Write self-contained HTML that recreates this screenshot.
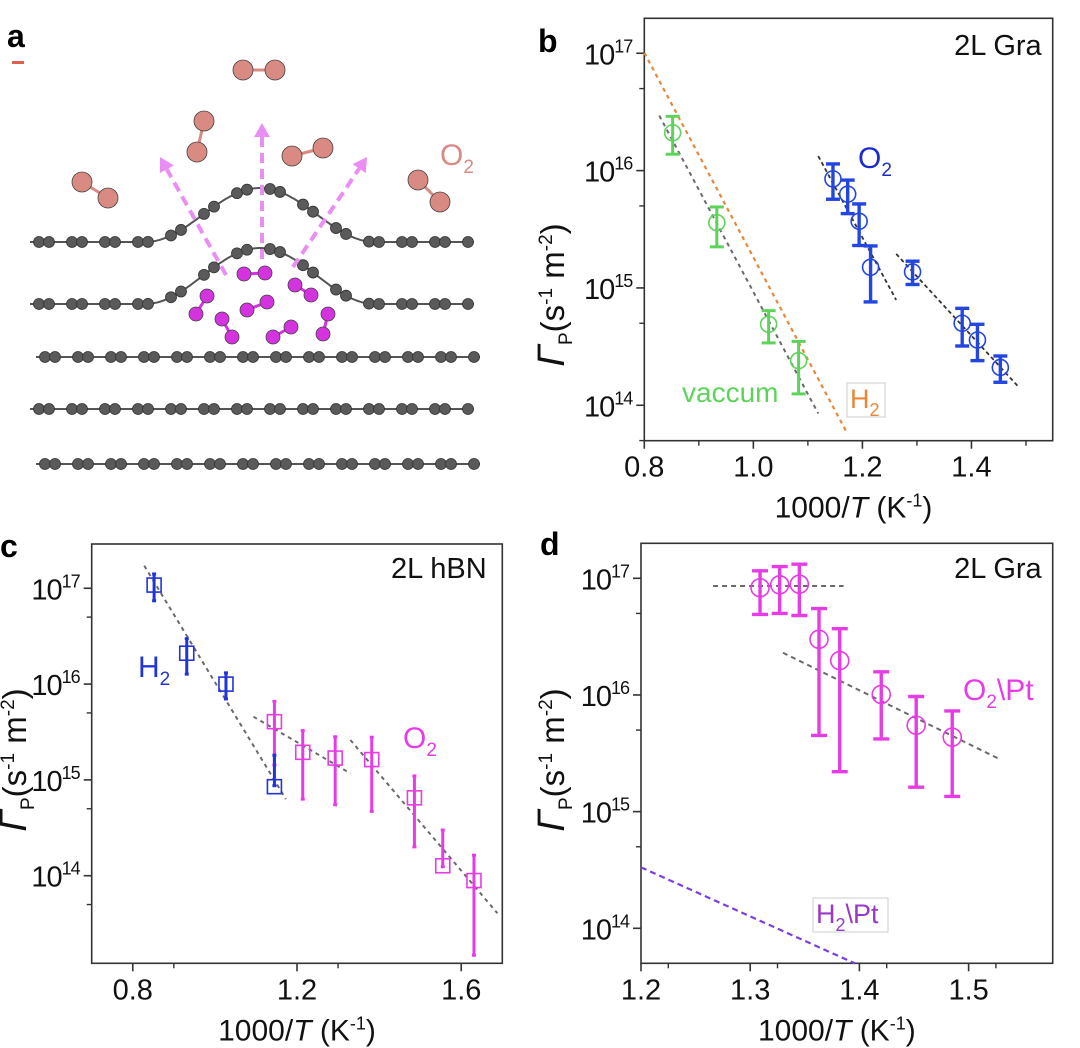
<!DOCTYPE html>
<html><head><meta charset="utf-8"><style>
body{margin:0;background:#fff}
svg{display:block;font-family:"Liberation Sans",Arial,sans-serif}
</style></head><body>
<svg id="fig" width="1080" height="1048" viewBox="0 0 1080 1048" xmlns="http://www.w3.org/2000/svg">
<g id="pa"></g>
<g id="pb"></g>
<g id="pc"></g>
<g id="pd"></g>
</svg>
<script>
// ---------- Panel b data ----------
const bVacX=[0.852,0.933,1.028,1.083];
const bVacY=[2.1e16,3.6e15,4.9e14,2.4e14];
const bVacHi=[2.9e16,4.9e15,6.4e14,3.5e14];
const bVacLo=[1.38e16,2.24e15,3.4e14,1.25e14];
const bO2X=[1.146,1.173,1.194,1.215,1.292,1.383,1.411,1.453];
const bO2Y=[8.5e15,6.3e15,3.7e15,1.5e15,1.37e15,5.0e14,3.6e14,2.1e14];
const bO2Hi=[1.14e16,8.3e15,5.2e15,2.28e15,1.69e15,6.7e14,4.9e14,2.63e14];
const bO2Lo=[5.7e15,4.3e15,2.3e15,7.6e14,1.07e15,3.2e14,2.4e14,1.57e14];
const bFitVacX=[0.8275,1.119], bFitVacY=[2.94e16,8.5e13];
const bFitH2X=[0.8,1.171], bFitH2Y=[1.01e17,5.9e13];
const bFitO2aX=[1.119,1.262], bFitO2aY=[1.33e16,7.9e14];
const bFitO2bX=[1.262,1.486], bFitO2bY=[1.95e15,1.44e14];
const bXTicks=["0.8","1.0","1.2","1.4"];
// ---------- Panel c data ----------
const cH2X=[0.852,0.9315,1.027,1.145];
const cH2Y=[1.08e17,2.1e16,1.0e16,8.5e14];
const cH2Hi=[1.41e17,2.98e16,1.31e16,1.81e15];
const cH2Lo=[7.4e16,1.27e16,7.0e15,8.7e14];
const cO2X=[1.145,1.214,1.293,1.382,1.486,1.555,1.631];
const cO2Y=[4.05e15,1.94e15,1.69e15,1.63e15,6.5e14,1.27e14,8.9e13];
const cO2Hi=[6.6e15,3.27e15,2.82e15,2.79e15,1.1e15,3.0e14,1.64e14];
const cO2Lo=[1.43e15,6.3e14,5.5e14,4.7e14,2.0e14,1.24e14,1.48e13];
const cFit1X=[0.828,1.173], cFit1Y=[1.72e17,6.3e14];
const cFit2X=[1.094,1.33], cFit2Y=[4.57e15,1.17e15];
const cFit3X=[1.33,1.688], cFit3Y=[2.61e15,4.06e13];
const cXTicks=["0.8","1.2","1.6"];
// ---------- Panel d data ----------
const dO2X=[1.309,1.327,1.345,1.363,1.382,1.420,1.452,1.485];
const dO2Y=[8.3e16,8.8e16,8.9e16,3.0e16,1.97e16,1.01e16,5.5e15,4.35e15];
const dO2Hi=[1.16e17,1.26e17,1.32e17,5.5e16,3.7e16,1.58e16,9.7e15,7.3e15];
const dO2Lo=[4.9e16,5.0e16,4.8e16,4.5e15,2.2e15,4.2e15,1.62e15,1.35e15];
const dFit1X=[1.266,1.3855], dFit1Y=[8.6e16,8.6e16];
const dFit2X=[1.33,1.529], dFit2Y=[2.3e16,2.8e15];
const dH2X=[1.2,1.396], dH2Y=[3.33e14,5.0e13];
const dXTicks=["1.2","1.3","1.4","1.5"];
const yDecades=[14,15,16,17];

const NS="http://www.w3.org/2000/svg";
function el(parent,tag,attrs,text){
  const e=document.createElementNS(NS,tag);
  for(const k in attrs) e.setAttribute(k,attrs[k]);
  if(text!==undefined) e.textContent=text;
  parent.appendChild(e); return e;
}

function makeAxes(g,cfg){
  const X=v=>cfg.L+(v-cfg.x0)/(cfg.x1-cfg.x0)*(cfg.R-cfg.L);
  const Y=v=>{const l=Math.log10(v);return cfg.B-(l-cfg.y0)/(cfg.y1-cfg.y0)*(cfg.B-cfg.T);};
  const frame=el(g,'rect',{x:cfg.L,y:cfg.T,width:cfg.R-cfg.L,height:cfg.B-cfg.T,fill:'none',stroke:'#333','stroke-width':1.6});
  
  
  cfg.xt.forEach(t=>{const v=parseFloat(t),x=X(v);
    const tk=el(g,'line',{x1:x,x2:x,y1:cfg.B,y2:cfg.B+8,stroke:'#333','stroke-width':1.6});
    
    
    const tl=el(g,'text',{x:x,y:cfg.B+36,'font-size':29,'text-anchor':'middle',fill:'#111'},t);
    
    
    const m=v+cfg.xstep/2;
    if(m<cfg.x1){const mx=X(m);const mt=el(g,'line',{x1:mx,x2:mx,y1:cfg.B,y2:cfg.B+5,stroke:'#333','stroke-width':1.4});
      
      }
  });
  yDecades.forEach(d=>{const y=Y(Math.pow(10,d));
    if(y>=cfg.T-1&&y<=cfg.B+1){
      const tk=el(g,'line',{x1:cfg.L-8,x2:cfg.L,y1:y,y2:y,stroke:'#333','stroke-width':1.6});
      
      
      const tl=el(g,'text',{x:cfg.L-12,y:y+11,'font-size':29,'text-anchor':'end',fill:'#111','letter-spacing':-1});
      
      
      el(tl,'tspan',{},'10');
      el(tl,'tspan',{dy:-12,'font-size':18},String(d));
    }
    const ym=Y(5*Math.pow(10,d));
    if(ym>=cfg.T&&ym<=cfg.B){const mt=el(g,'line',{x1:cfg.L-5,x2:cfg.L,y1:ym,y2:ym,stroke:'#333','stroke-width':1.4});
      
      }
    const yb=Y(5*Math.pow(10,d-1));
    if(d===14&&yb>=cfg.T&&yb<=cfg.B){const mt=el(g,'line',{x1:cfg.L-5,x2:cfg.L,y1:yb,y2:yb,stroke:'#333','stroke-width':1.4});
      
      }
  });
  const xt=el(g,'text',{x:(cfg.L+cfg.R)/2+cfg.xtOff,y:cfg.B+77,'font-size':30,'text-anchor':'middle',fill:'#111'});
  
  
  el(xt,'tspan',{},'1000/');
  el(xt,'tspan',{'font-style':'italic'},'T');
  el(xt,'tspan',{},' (K');
  el(xt,'tspan',{dy:-11,'font-size':18},'-1');
  el(xt,'tspan',{dy:11},')');
  const yt=el(g,'text',{x:0,y:0,'font-size':33,'text-anchor':'middle',fill:'#111',transform:`translate(${cfg.ytx},${cfg.yty}) rotate(-90)`});
  
  
  el(yt,'tspan',{'font-style':'italic','font-size':38},'Γ');
  el(yt,'tspan',{dy:8,'font-size':19},'P');
  el(yt,'tspan',{dy:-8},'(s');
  el(yt,'tspan',{dy:-12,'font-size':19},'-1');
  el(yt,'tspan',{dy:12},' m');
  el(yt,'tspan',{dy:-12,'font-size':19},'-2');
  el(yt,'tspan',{dy:12},')');
  return {X,Y};
}
function fit(g,ax,xs,ys,color,dash,w,name){
  const l=el(g,'line',{x1:ax.X(xs[0]),y1:ax.Y(ys[0]),x2:ax.X(xs[1]),y2:ax.Y(ys[1]),stroke:color,'stroke-width':w,'stroke-dasharray':dash});
  
  
}
function series(g,ax,xs,ys,hi,lo,color,shape,size,ew,cap,name){
  xs.forEach((xv,i)=>{
    const x=ax.X(xv),y=ax.Y(ys[i]),yh=ax.Y(hi[i]),yl=ax.Y(lo[i]);
    const grp=el(g,'g',{});
    
    
    el(grp,'line',{x1:x,x2:x,y1:yh,y2:yl,stroke:color,'stroke-width':ew});
    el(grp,'line',{x1:x-cap,x2:x+cap,y1:yh,y2:yh,stroke:color,'stroke-width':ew});
    el(grp,'line',{x1:x-cap,x2:x+cap,y1:yl,y2:yl,stroke:color,'stroke-width':ew});
    if(shape==='circle') el(grp,'circle',{cx:x,cy:y,r:size,fill:'none',stroke:color,'stroke-width':1.6});
    else el(grp,'rect',{x:x-size,y:y-size,width:2*size,height:2*size,fill:'none',stroke:color,'stroke-width':1.6});
  });
}
function label(g,x,y,parts,color,size,anchor,name){
  const t=el(g,'text',{x:x,y:y,'font-size':size,fill:color,'text-anchor':anchor||'start'});
  
  
  parts.forEach(p=>{ if(typeof p==='string') el(t,'tspan',{},p); else el(t,'tspan',{dy:p.dy,'font-size':p.fs},p.t); });
  return t;
}
function panelLetter(x,y,ch){
  const t=el(document.getElementById('fig'),'text',{x:x,y:y,'font-size':32,'font-weight':'bold',fill:'#000'},ch);
  
  
}
const GREY='#6a6a6a';
(function(){
  const g=document.getElementById('pb');
  const ax=makeAxes(g,{L:644.3,R:1052.7,T:18.3,B:440.7,x0:0.8,x1:1.549,y0:13.698,y1:17.298,xt:bXTicks,xstep:0.2,xtOff:5,ytx:564,yty:295});
  fit(g,ax,bFitH2X,bFitH2Y,'#e8883a','4 4',2.2,'h2-fit-line');
  fit(g,ax,bFitVacX,bFitVacY,GREY,'4 4',2,'vacuum-fit-line');
  fit(g,ax,bFitO2aX,bFitO2aY,'#333','4 3',1.8,'o2-fit-line-1');
  fit(g,ax,bFitO2bX,bFitO2bY,'#333','4 3',1.8,'o2-fit-line-2');
  series(g,ax,bVacX,bVacY,bVacHi,bVacLo,'#5ed35a','circle',8,3,7,'vacuum');
  series(g,ax,bO2X,bO2Y,bO2Hi,bO2Lo,'#2446e0','circle',8,3.4,7,'o2');
  label(g,1041.7,55,['2L Gra'],'#111',29,'end','panel-b-sample-label');
  label(g,682,402,['vaccum'],'#5ed35a',28,'start','vacuum-label');
  label(g,858,168,['O',{t:'2',dy:8,fs:19}],'#1a2ccc',30,'start','o2-label');
  const bx=el(g,'rect',{x:847,y:383,width:38,height:34,fill:'#fff',stroke:'#ccc','stroke-width':1});
  
  
  label(g,850,408,['H',{t:'2',dy:8,fs:18}],'#e8883a',27,'start','h2-label');
})();
(function(){
  const g=document.getElementById('pc');
  const ax=makeAxes(g,{L:91.7,R:502.3,T:544,B:963.3,x0:0.7,x1:1.70,y0:13.086,y1:17.462,xt:cXTicks,xstep:0.2,xtOff:0,ytx:26,yty:760});
  fit(g,ax,cFit1X,cFit1Y,GREY,'4 4',2,'h2-fit-line');
  fit(g,ax,cFit2X,cFit2Y,GREY,'4 4',2,'o2-fit-line-1');
  fit(g,ax,cFit3X,cFit3Y,GREY,'4 4',2,'o2-fit-line-2');
  series(g,ax,cO2X,cO2Y,cO2Hi,cO2Lo,'#e63ce6','square',7,3,2,'o2');
  series(g,ax,cH2X,cH2Y,cH2Hi,cH2Lo,'#2233d8','square',7,3,2,'h2');
  label(g,486.7,578,['2L hBN'],'#111',29,'end','panel-c-sample-label');
  label(g,138,677,['H',{t:'2',dy:8,fs:19}],'#2233d8',30,'start','h2-label');
  label(g,403,748,['O',{t:'2',dy:8,fs:19}],'#e63ce6',30,'start','o2-label');
})();
(function(){
  const g=document.getElementById('pd');
  const ax=makeAxes(g,{L:641,R:1052.7,T:543.3,B:963.3,x0:1.2,x1:1.577,y0:13.7,y1:17.3,xt:dXTicks,xstep:0.05,xtOff:-10,ytx:564,yty:760});
  fit(g,ax,dFit1X,dFit1Y,GREY,'5 4',2,'flat-fit-line');
  fit(g,ax,dFit2X,dFit2Y,GREY,'5 4',2,'o2-fit-line');
  fit(g,ax,dH2X,dH2Y,'#7b3fe4','6 4',2.2,'h2-pt-line');
  series(g,ax,dO2X,dO2Y,dO2Hi,dO2Lo,'#e63ce6','circle',9,3.4,8,'o2-pt');
  label(g,1041.7,578,['2L Gra'],'#111',29,'end','panel-d-sample-label');
  label(g,963,700,['O',{t:'2',dy:8,fs:19},{t:'\\Pt',dy:-8,fs:30}],'#e63ce6',30,'start','o2-pt-label');
  const bx=el(g,'rect',{x:813,y:898,width:75,height:34,fill:'#fff',stroke:'#ccc','stroke-width':1});
  
  
  label(g,816,923,['H',{t:'2',dy:8,fs:18},{t:'\\Pt',dy:-8,fs:27}],'#9a38c8',27,'start','h2-pt-label');
})();
panelLetter(7,47,'a');
panelLetter(538,52,'b');
panelLetter(0,557,'c');
panelLetter(540,555,'d');
(function(){
  const g=document.getElementById('pa');
  const dash=el(g,'rect',{x:12,y:61,width:12,height:3,fill:'#e0604e'});
  
  
  function layer(base,amp,x0,x1,name){
    const f=x=>{ if(amp===0||x<145||x>375) return base; const t=(x-145)/230; return base-amp*(1-Math.cos(2*Math.PI*t))/2; };
    const lg=el(g,'g',{});
    
    
    let d='';
    for(let x=x0;x<=x1;x+=2) d+=(d?'L':'M')+x+' '+f(x).toFixed(1);
    el(lg,'path',{d:d,fill:'none',stroke:'#555','stroke-width':2});
    for(let x=x0+9;x<x1;x+=33){
      [x,x+10].forEach(ax=>{ if(ax<x1) el(lg,'circle',{cx:ax,cy:f(ax),r:5.5,fill:'#5a5a5a',stroke:'#333','stroke-width':0.8}); });
    }
  }
  layer(242,54,30,475,'graphene-layer-1');
  layer(304,56,30,475,'graphene-layer-2');
  layer(357,0,36,481,'graphene-layer-3');
  layer(409,0,30,475,'graphene-layer-4');
  layer(464,0,36,481,'graphene-layer-5');
  function mol(x1,y1,x2,y2,r,c,bond,name){
    const mg=el(g,'g',{});
    
    
    el(mg,'line',{x1:x1,y1:y1,x2:x2,y2:y2,stroke:bond,'stroke-width':3});
    el(mg,'circle',{cx:x1,cy:y1,r:r,fill:c,stroke:'#444','stroke-width':0.8});
    el(mg,'circle',{cx:x2,cy:y2,r:r,fill:c,stroke:'#444','stroke-width':0.8});
  }
  [[82,182,108,198],[204,121,197,152],[243,70,275,70],[292,156,323,148],[418,180,440,202]].forEach(m=>mol(m[0],m[1],m[2],m[3],10,'#d98a82','#d98a82','o2-molecule'));
  [[244,274,265,273],[295,285,311,295],[207,296,196,314],[247,310,267,302],[222,319,232,337],[273,337,291,327],[328,314,323,334]].forEach(m=>mol(m[0],m[1],m[2],m[3],7,'#d633e0','#d633e0','trapped-molecule'));
  function arrow(x1,y1,x2,y2){
    const ag=el(g,'g',{});
    
    
    const a=Math.atan2(y2-y1,x2-x1),hl=14;
    const bx=x2-hl*Math.cos(a),by=y2-hl*Math.sin(a);
    el(ag,'line',{x1:x1,y1:y1,x2:bx,y2:by,stroke:'#ea8ef5','stroke-width':4,'stroke-dasharray':'10 6'});
    const px=Math.sin(a)*8,py=-Math.cos(a)*8;
    el(ag,'polygon',{points:`${x2},${y2} ${bx+px},${by+py} ${bx-px},${by-py}`,fill:'#ea8ef5'});
  }
  arrow(226,275,160,157);
  arrow(262,259,262,123);
  arrow(293,267,367,157);
  label(g,440,165,['O',{t:'2',dy:8,fs:19}],'#d98a82',30,'start','o2-label');
})();
</script>
</body></html>
